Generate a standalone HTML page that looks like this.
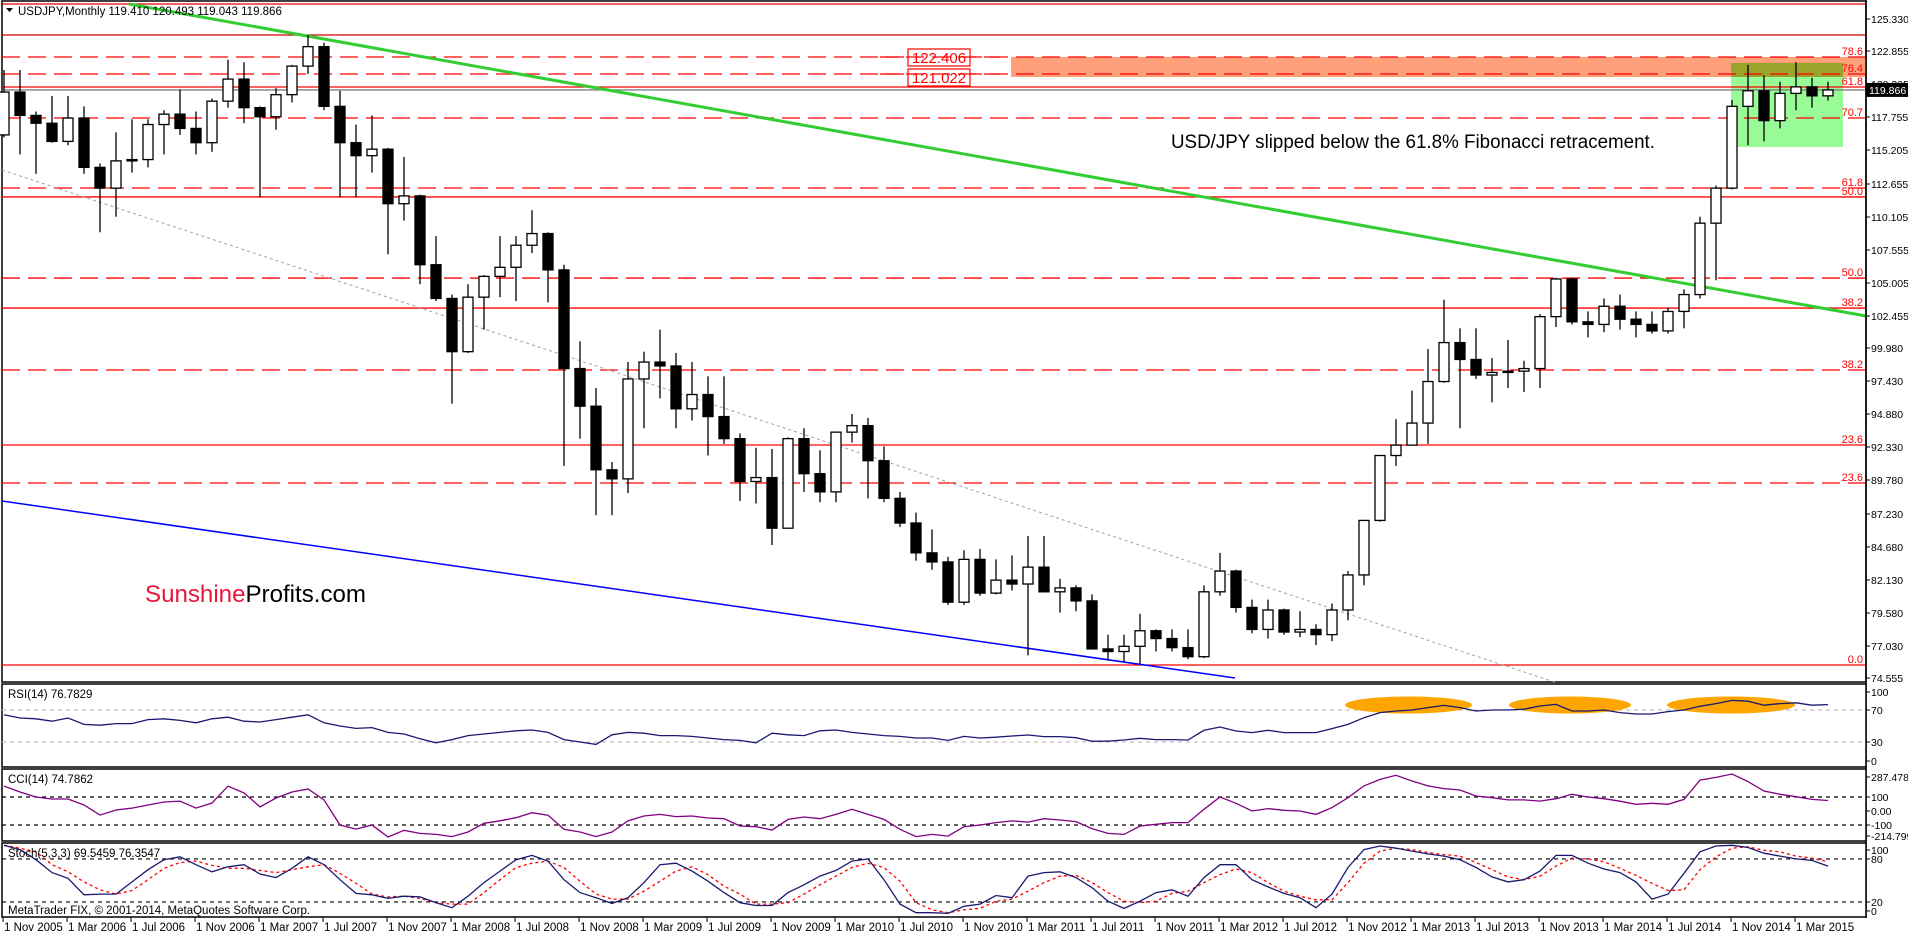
<!DOCTYPE html>
<html><head><meta charset="utf-8"><style>
html,body{margin:0;padding:0;background:#fff;}
svg{display:block;font-family:"Liberation Sans",Arial,sans-serif;}
</style></head><body>
<svg id="chart" xmlns="http://www.w3.org/2000/svg" width="1908" height="935" viewBox="0 0 1908 935"></svg>
<script>
// ---- data ----
const months = ["Nov","Dec","Jan","Feb","Mar","Apr","May","Jun","Jul","Aug","Sep","Oct"];
const startYear = 2005;
const opens = [116.4,119.7,117.9,117.3,115.9,117.7,113.9,112.3,114.4,114.5,117.2,118.0,116.9,115.8,119.0,120.7,118.5,117.8,119.5,121.7,123.2,118.6,115.8,114.8,115.3,111.1,111.7,106.4,103.8,99.7,103.9,105.5,106.2,107.9,108.8,106.0,98.4,95.5,90.6,89.9,97.6,98.9,98.6,95.3,96.4,94.7,93.0,89.7,90.0,86.1,93.0,90.3,88.9,93.5,94.0,91.3,88.4,86.5,84.2,83.5,80.4,83.7,81.1,82.1,81.8,83.1,81.2,81.5,80.5,76.8,76.6,77.0,78.2,77.6,76.9,76.2,81.2,82.8,80.0,78.3,79.8,78.1,78.3,77.9,79.8,82.5,86.7,91.7,92.5,94.2,97.4,100.4,99.1,97.9,98.1,98.2,98.4,102.4,105.3,102.0,101.8,103.2,102.2,101.8,101.3,102.8,104.1,109.6,112.3,118.6,119.8,117.5,119.6,120.1,119.41];
const highs = [121.4,121.4,118.2,119.4,119.4,118.6,114.2,116.6,117.6,117.6,118.3,119.9,118.2,119.2,122.2,122.0,118.6,120.0,121.8,124.1,123.5,119.8,117.2,117.9,115.4,114.7,111.8,108.6,104.1,104.9,105.6,108.6,108.6,110.6,108.9,106.4,100.5,96.9,91.2,98.9,99.7,101.4,99.6,98.9,97.8,97.8,93.4,92.3,92.2,93.1,93.8,92.1,93.5,94.9,94.6,92.4,88.9,87.3,86.0,83.9,84.4,84.5,83.7,84.0,85.5,85.5,82.2,81.7,81.0,77.9,77.9,79.5,78.3,78.3,78.3,81.7,84.2,82.9,80.6,80.6,79.9,79.7,78.7,80.3,82.8,86.6,91.3,94.5,96.7,99.9,103.7,101.5,101.5,99.2,100.6,99.0,102.6,105.4,105.4,102.8,103.8,104.1,102.8,102.8,103.1,104.5,110.1,112.5,119.1,121.8,121.0,120.5,122.0,120.8,120.493];
const lows = [116.2,114.9,113.4,115.8,115.6,113.4,108.9,110.1,113.5,113.9,114.9,116.4,114.9,115.1,118.5,117.3,111.6,116.8,118.9,121.1,118.3,111.6,111.6,113.5,107.2,109.8,104.9,103.6,95.7,99.6,101.4,103.9,103.6,107.3,103.5,90.9,93.0,87.1,87.1,88.8,93.8,96.1,93.8,94.4,91.7,92.6,88.2,88.0,84.8,86.1,88.9,88.1,88.1,92.7,88.4,88.1,86.2,83.6,82.9,80.2,80.2,80.9,81.0,81.3,76.3,81.3,79.6,79.7,76.8,75.9,75.8,75.6,76.6,76.6,76.0,76.1,80.9,79.6,78.0,77.6,77.9,77.7,77.1,77.4,79.0,81.7,86.6,90.9,92.5,92.6,97.3,93.8,97.6,95.8,96.9,96.6,96.9,101.6,101.8,100.8,101.2,101.4,100.8,101.1,101.1,101.5,103.8,105.2,112.2,115.6,115.9,116.9,118.3,118.5,119.043];
const closes = [119.7,117.9,117.3,115.9,117.7,113.9,112.3,114.4,114.5,117.2,118.0,116.9,115.8,119.0,120.7,118.5,117.8,119.5,121.7,123.2,118.6,115.8,114.8,115.3,111.1,111.7,106.4,103.8,99.7,103.9,105.5,106.2,107.9,108.8,106.0,98.4,95.5,90.6,89.9,97.6,98.9,98.6,95.3,96.4,94.7,93.0,89.7,90.0,86.1,93.0,90.3,88.9,93.5,94.0,91.3,88.4,86.5,84.2,83.5,80.4,83.7,81.1,82.1,81.8,83.1,81.2,81.5,80.5,76.8,76.6,77.0,78.2,77.6,76.9,76.2,81.2,82.8,80.0,78.3,79.8,78.1,78.3,77.9,79.8,82.5,86.7,91.7,92.5,94.2,97.4,100.4,99.1,97.9,98.1,98.2,98.4,102.4,105.3,102.0,101.8,103.2,102.2,101.8,101.3,102.8,104.1,109.6,112.3,118.6,119.8,117.5,119.6,120.1,119.41,119.866];
const rsi = [64,60,59,56,60,52,51,53,53,58,59,57,54,59,61,56,55,58,61,64,54,50,47,48,42,40,34,29,33,38,40,42,44,45,42,33,30,27,39,42,41,38,38,37,35,33,32,29,41,39,38,44,45,42,40,38,37,35,35,32,37,35,36,37.5,38.7,36.7,36.7,35.4,31,31,32.5,34.6,33,33,32.5,44.6,48.7,43.7,41.7,44.6,41.7,41.7,41.7,46.7,52,60.4,66.7,68.7,70,73,75.8,73,68.7,70,70,71,75,77,68.7,68.7,70,66.7,65,65,68,70,74.6,78,82,81,76,78,79,76,76.8];
const cci = [178,136,100,86,86,43,-29,7,21,43,64,71,21,57,178,129,29,93,136,157,79,-100,-129,-100,-186,-138,-160,-167,-183,-150,-88,-70,-48,-12,-30,-131,-150,-183,-150,-71,-36,-24,-40,-36,-50,-55,-107,-112,-136,-60,-43,-55,-24,12,-24,-60,-131,-183,-167,-179,-112,-100,-83,-71,-79,-55,-64,-76,-126,-160,-167,-107,-95,-83,-83,12,100,55,0,17,5,0,-24,24,95,179,226,255,214,179,160,150,107,95,79,79,71,88,119,100,88,70,48,55,48,83,221,240,264,210,143,119,102,83,75];
const stochK = [99,93,79,61,53,30,31,31,48,65,79,83,72,62,69,72,59,54,67,83,72,51,32,30,25,28,27,19,12,28,47,63,79,85,77,51,33,26,18,26,47,72,74,63,49,33,19,15,15,33,44,56,64,77,80,51,17,5,5,4,14,17,29,26,56,61,62,54,40,21,11,21,33,37,28,54,72,72,51,41,32,26,12,31,68,93,98,95,91,87,84,79,68,55,48,51,63,85,85,74,66,61,48,24,31,60,90,98,99,96,88,84,80,78,70];
const stochD = [99,95,90,72,62,48,37,31,36,51,67,75,77,71,67,67,64,61,65,69,72,60,46,31,27,28,25,19,17,17,33,51,68,74,77,68,49,31,24,24,35,49,63,69,58,42,31,17,17,19,31,44,56,68,74,68,49,19,9,5,9,11,21,24,35,47,56,57,47,33,21,19,21,32,35,47,58,66,61,47,35,28,23,23,47,74,91,95,93,89,86,84,75,65,55,51,56,70,81,80,76,67,57,46,36,37,65,83,95,97,92,90,84,81,76];
const priceTicks = [125.330,122.855,120.305,117.755,115.205,112.655,110.105,107.555,105.005,102.455,99.980,97.430,94.880,92.330,89.780,87.230,84.680,82.130,79.580,77.030,74.555];
const fibLevels = [122.40,121.09,120.09,117.70,112.31,111.62,105.37,103.06,98.29,92.51,89.58,75.56];
const fibLabels = ["78.6","76.4","61.8","70.7","61.8","50.0","50.0","38.2","38.2","23.6","23.6","0.0"];
const fibDashed = [1,1,0,1,1,0,1,0,1,0,1,0];

// ---- scales ----
const AX = 1866;
const xOf = i => 4 + 16*i;
const yP = p => 19 + (125.33 - p)*12.98;
const yR = v => 766 - 0.8*v;
const yC = v => 811 - 0.14*v;
const yS = v => 916.3 - 0.717*v;

const svg = document.getElementById('chart');
const NS = 'http://www.w3.org/2000/svg';
function mk(tag, attrs, parent){
  const e = document.createElementNS(NS, tag);
  for (const k in attrs) e.setAttribute(k, attrs[k]);
  (parent||svg).appendChild(e);
  return e;
}
function txt(x,y,s,attrs,parent){
  const t = mk('text', Object.assign({x:x,y:y},attrs||{}), parent);
  t.textContent = s;
  return t;
}

const main = mk('g',{});


mk('rect',{x:2,y:1,width:AX-2,height:681,fill:'#fff',stroke:'#000','stroke-width':1.5},main);

const orange = mk('rect',{x:1011,y:57,width:AX-1011,height:20,fill:'#ffa07a'},main);


const green = mk('rect',{x:1731,y:63,width:112,height:84,fill:'#98fb98'},main);


const olive = mk('rect',{x:1731,y:63,width:112,height:14,fill:'#9aa42a'},main);



mk('line',{x1:2,x2:AX,y1:4,y2:4,stroke:'#e00000','stroke-width':1.2},main);
mk('line',{x1:2,x2:AX,y1:35,y2:35,stroke:'#d00000','stroke-width':1.2},main);

fibLevels.forEach((p,k)=>{
  const y = yP(p);
  const l = mk('line',{x1:2,x2:AX,y1:y,y2:y,stroke:'#ff0000','stroke-width':1.3,'stroke-dasharray':fibDashed[k]?'18,8':'none'},main);
  
  
  const t = txt(AX-3,y-2,fibLabels[k],{'text-anchor':'end','font-size':11,fill:'#ff0000'},main);
  
  
});

mk('line',{x1:2,x2:AX,y1:yP(119.866),y2:yP(119.866),stroke:'#808080','stroke-width':1.3},main);

const gl = mk('line',{x1:129,y1:4,x2:AX,y2:316,stroke:'#32cd32','stroke-width':3},main);


const bl = mk('line',{x1:2,y1:501,x2:1235,y2:678,stroke:'#0000ff','stroke-width':1.5},main);


const dl = mk('line',{x1:2,y1:170,x2:1600,y2:697,stroke:'#a0a0a0','stroke-width':1,'stroke-dasharray':'3,3'},main);



const cg = mk('g',{},main);


for (let i=0;i<closes.length;i++){
  const x = xOf(i), o=opens[i], c=closes[i];
  const up = c>=o;
  const w = mk('line',{x1:x,x2:x,y1:yP(highs[i]),y2:yP(lows[i]),stroke:'#000','stroke-width':1.3},cg);
  
  
  const top = yP(Math.max(o,c)), bot = yP(Math.min(o,c));
  const b = mk('rect',{x:x-5,y:top,width:10,height:Math.max(1,bot-top),fill:up?'#fff':'#000',stroke:'#000','stroke-width':1.3},cg);
  
  
}

[[122.406,49],[121.022,69]].forEach(([v,y])=>{
  const r = mk('rect',{x:908,y:y,width:62,height:17,fill:'#fff',stroke:'#ff0000','stroke-width':1.2},main);
  
  
  const t = txt(939,y+14,v.toFixed(3),{'text-anchor':'middle','font-size':15,fill:'#ff0000'},main);
  
  
});
mk('line',{x1:880,x2:1000,y1:57,y2:57,stroke:'#ff0000','stroke-width':1.3,'stroke-dasharray':'18,8'},main);
mk('line',{x1:880,x2:1000,y1:74,y2:74,stroke:'#ff0000','stroke-width':1.3,'stroke-dasharray':'18,8'},main);

const ann = txt(1171,148,'USD/JPY slipped below the 61.8% Fibonacci retracement.',{'font-size':19,fill:'#000',textLength:484,lengthAdjust:'spacingAndGlyphs'},main);


const sp = mk('text',{x:145,y:602,'font-size':24,textLength:221,lengthAdjust:'spacingAndGlyphs'},main);


sp.innerHTML = '<tspan fill="#e8173a">Sunshine</tspan><tspan fill="#000">Profits.com</tspan>';

const hdr = txt(18,15,'USDJPY,Monthly  119.410 120.493 119.043 119.866',{'font-size':11.5,fill:'#000'},main);


const tri = mk('path',{d:'M6 8 L13 8 L9.5 12 Z',fill:'#000'},main);



const axg = mk('g',{});


mk('line',{x1:AX,x2:AX,y1:0,y2:918,stroke:'#000','stroke-width':1.5},axg);
priceTicks.forEach(p=>{
  const y = Math.round(yP(p));
  mk('line',{x1:AX,x2:AX+4,y1:y,y2:y,stroke:'#000'},axg);
  const t = txt(AX+5,y+4,p.toFixed(3),{'font-size':10.5,fill:'#000'},axg);
  
  
});
const cb = mk('rect',{x:AX,y:yP(119.866)-7,width:42,height:14,fill:'#000'},axg);


const ct = txt(AX+3,yP(119.866)+4,'119.866',{'font-size':10.5,fill:'#fff'},axg);



function panel(y0,y1,name){
  const g = mk('g',{});
  
  
  mk('rect',{x:2,y:y0,width:AX-2,height:y1-y0,fill:'#fff',stroke:'#000','stroke-width':1.5},g);
  return g;
}
function hline(g,y,color){ mk('line',{x1:2,x2:AX,y1:y,y2:y,stroke:color,'stroke-width':1.2,'stroke-dasharray':'4,4'},g); }
function poly(g,arr,fy,color,dash,name){
  const pts = arr.map((v,i)=>xOf(i)+','+fy(v).toFixed(1)).join(' ');
  const p = mk('polyline',{points:pts,fill:'none',stroke:color,'stroke-width':1.3,'stroke-dasharray':dash||'none'},g);
  
  
}
function albl(g,y,s){ mk('line',{x1:AX,x2:AX+4,y1:y,y2:y,stroke:'#000'},g); txt(AX+5,y+4,s,{'font-size':10.5,fill:'#000'},g); }

const rg = panel(684,767,'rsi-panel');
hline(rg,yR(70),'#c0c0c0'); hline(rg,yR(30),'#c0c0c0');
[[1345,1472],[1509,1631],[1667,1795]].forEach(([a,b])=>{
  const e = mk('ellipse',{cx:(a+b)/2,cy:705,rx:(b-a)/2,ry:8.5,fill:'#ffa500'},rg);
  
  
});
poly(rg,rsi,yR,'#191970',null,'rsi-line');
txt(8,698,'RSI(14) 76.7829',{'font-size':11.5,fill:'#000'},rg);
albl(rg,692,'100'); albl(rg,710,'70'); albl(rg,742,'30'); albl(rg,761,'0');

const ccg = panel(769,841,'cci-panel');
hline(ccg,yC(100),'#000'); hline(ccg,yC(-100),'#000');
poly(ccg,cci,yC,'#800080',null,'cci-line');
txt(8,783,'CCI(14) 74.7862',{'font-size':11.5,fill:'#000'},ccg);
albl(ccg,777,'287.4787'); albl(ccg,797,'100'); albl(ccg,811,'0.00'); albl(ccg,825,'-100'); albl(ccg,836,'-214.7997');

const sg = panel(843,917,'stochastic-panel');
hline(sg,yS(80),'#000'); hline(sg,yS(20),'#000');
poly(sg,stochD,yS,'#ff0000','3,3','stoch-signal-line');
poly(sg,stochK,yS,'#191970',null,'stoch-main-line');
txt(8,857,'Stoch(5,3,3) 69.5459 76.3547',{'font-size':11.5,fill:'#000'},sg);
txt(8,914,'MetaTrader FIX, © 2001-2014, MetaQuotes Software Corp.',{'font-size':11.5,fill:'#000'},sg);
albl(sg,850,'100'); albl(sg,859,'80'); albl(sg,902,'20'); albl(sg,911,'0');

const dg = mk('g',{});


for (let i=0;i<closes.length;i+=4){
  const x = xOf(i)-1;
  const mIdx = i%12;
  const yr = startYear + Math.floor((i+10)/12);
  mk('line',{x1:x,x2:x,y1:917,y2:922,stroke:'#000'},dg);
  const t = txt(x+1,931,'1 '+months[mIdx]+' '+yr,{'font-size':11.5,fill:'#000'},dg);
  
  
}
</script>
</body></html>
